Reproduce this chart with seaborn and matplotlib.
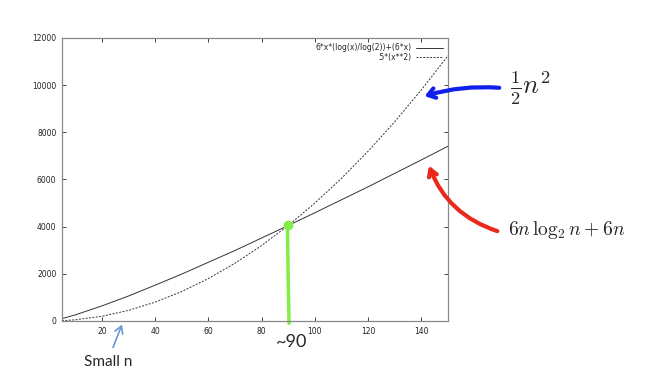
import pandas as pd
import seaborn as sns
import matplotlib.pyplot as plt

# values
n = [5, 10, 20, 30, 40, 50, 60, 70, 80, 90, 100, 110, 120, 130, 140, 150]
merge_sort = [100, 260, 640, 1060, 1520, 1990, 2490, 2990, 3520, 4050,
              4590, 5140, 5690, 6260, 6830, 7410]
half_square = [12, 50, 200, 450, 800, 1250, 1800, 2450, 3200, 4050,
               5000, 6050, 7200, 8450, 9800, 11250]
label_a = "6*x*(log(x)/log(2))+(6*x)"
label_b = ".5*(x**2)"
xticks = [20, 40, 60, 80, 100, 120, 140]
yticks = [0, 2000, 4000, 6000, 8000, 10000, 12000]
cross_n = 90

df = pd.DataFrame({
    "n": n + n,
    "ops": merge_sort + half_square,
    "series": [label_a] * len(n) + [label_b] * len(n),
})

sns.set_style("ticks")
plt.rcParams["mathtext.fontset"] = "cm"

fig = plt.figure(figsize=(6.5, 3.88), dpi=100)
ax = fig.add_axes([0.0954, 0.1727, 0.5938, 0.7294])

sns.lineplot(data=df, x="n", y="ops", style="series", color="#333333",
             linewidth=0.7, dashes={label_a: "", label_b: (2, 1.5)},
             ax=ax)

ax.set_xlim(5, 150)
ax.set_ylim(0, 12000)
ax.set_xticks(xticks)
ax.set_yticks(yticks)
ax.set_xlabel("")
ax.set_ylabel("")
ax.tick_params(direction="in", top=True, right=True, length=3, width=0.6,
               labelsize=5.5, colors="#222222", pad=4)
for s in ax.spines.values():
    s.set_color("#888888")
    s.set_linewidth(0.9)

leg = ax.legend(loc="upper right", frameon=False, fontsize=5.5,
                markerfirst=False, handlelength=3.5, borderaxespad=0.3,
                labelspacing=0.05, handletextpad=0.6)
for t in leg.get_texts():
    t.set_ha("right")
leg._legend_box.align = "right"

# green crossover marker
cross_y = merge_sort[n.index(cross_n)]
ax.plot([cross_n - 0.3, cross_n, cross_n + 0.3], [cross_y, 1500, -100],
        color="#80ee44", lw=2.5, clip_on=False, solid_capstyle="round")
ax.plot([cross_n], [cross_y], "o", color="#80ee44", ms=6, clip_on=False)
fig.text(292 / 650, 1 - 342 / 388, "~90", fontsize=13, family="Lato",
         ha="center", va="center")

# hand-drawn style arrows and labels
ax.annotate("", xy=(422, 388 - 97), xytext=(502, 388 - 88),
            xycoords="figure pixels", textcoords="figure pixels",
            arrowprops=dict(arrowstyle="->,head_length=0.5,head_width=0.35",
                            color="#1020e8", lw=3,
                            connectionstyle="arc3,rad=0.1"))
fig.text(510 / 650, 1 - 88 / 388, r"$\frac{1}{2}n^2$", fontsize=19,
         ha="left", va="center")

ax.annotate("", xy=(428, 388 - 163), xytext=(500, 388 - 232),
            xycoords="figure pixels", textcoords="figure pixels",
            arrowprops=dict(arrowstyle="->,head_length=0.5,head_width=0.3",
                            color="#e8291c", lw=3,
                            connectionstyle="arc3,rad=-0.25"))
fig.text(508 / 650, 1 - 230 / 388, r"$6n\,\log_2 n + 6n$", fontsize=14,
         ha="left", va="center")

ax.annotate("", xy=(123, 388 - 322), xytext=(112, 388 - 350),
            xycoords="figure pixels", textcoords="figure pixels",
            arrowprops=dict(arrowstyle="->,head_length=0.5,head_width=0.3",
                            color="#6a97d4", lw=1.2))
fig.text(84 / 650, 1 - 362 / 388, "Small n", fontsize=11, family="Lato",
         ha="left", va="center")

fig.savefig("out.png", dpi=100)
